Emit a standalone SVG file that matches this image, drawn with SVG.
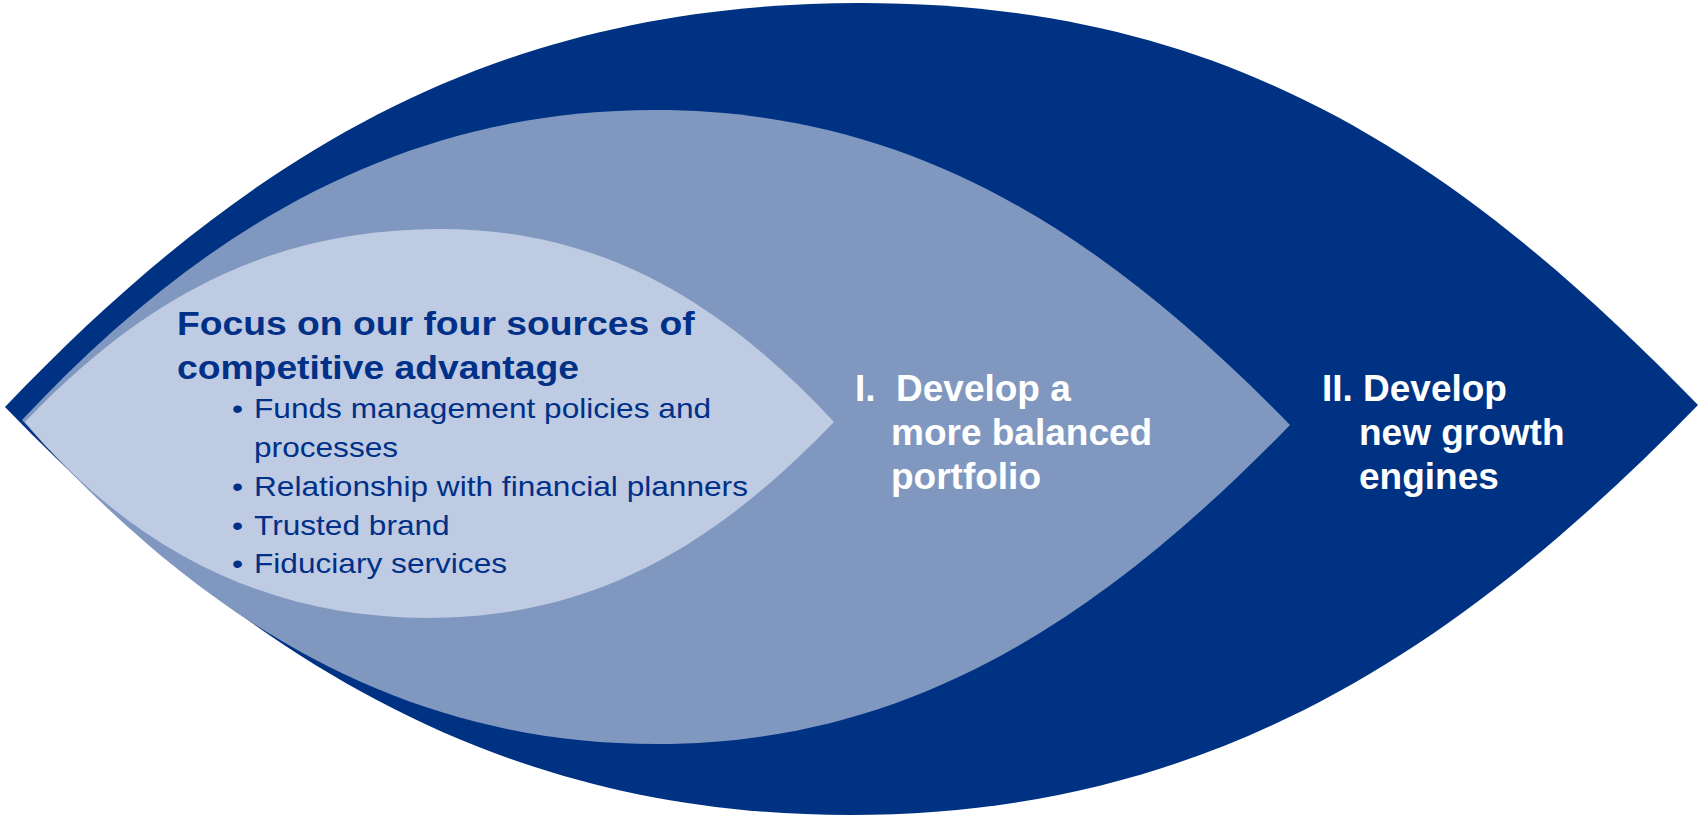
<svg xmlns="http://www.w3.org/2000/svg" width="1701" height="816" viewBox="0 0 1701 816">
  <style>
    .outer { fill: #003283; }
    .middle { fill: #8098c0; }
    .inner { fill: #bfcbe2; }
    .head { font-family: "Liberation Sans", Arial, sans-serif; font-weight: bold; font-size: 33px; fill: #003087; }
    .item { font-family: "Liberation Sans", Arial, sans-serif; font-size: 28px; fill: #003087; }
    .label { font-family: "Liberation Sans", Arial, sans-serif; font-weight: bold; font-size: 37px; fill: #ffffff; }
  </style>

  <!-- Outer lens: new growth engines -->
  <g id="growth-engines">
    <path class="outer" d="M 5 407 C 250 150, 500 3, 860 3 C 1220 3, 1450 150, 1698 405 C 1450 660, 1200 815, 850 815 C 500 815, 250 660, 5 407 Z"/>
    <text class="label" y="401"><tspan x="1322">II.</tspan><tspan x="1363">Develop</tspan></text>
    <text class="label" x="1359" y="445">new growth</text>
    <text class="label" x="1359" y="489">engines</text>
  </g>

  <!-- Middle lens: balanced portfolio -->
  <g id="balanced-portfolio">
    <path class="middle" d="M 22 420 C 200 230, 400 110, 655 110 C 910 110, 1100 230, 1290 425 C 1100 620, 910 744, 657 744 C 400 744, 200 620, 22 420 Z"/>
    <text class="label" y="401"><tspan x="855">I.</tspan><tspan x="896">Develop a</tspan></text>
    <text class="label" x="891" y="445">more balanced</text>
    <text class="label" x="891" y="489">portfolio</text>
  </g>

  <!-- Inner lens: competitive advantage (text set slightly wide) -->
  <g id="competitive-advantage">
    <path class="inner" d="M 25 422 C 150 290, 280 229, 440 229 C 600 229, 720 300, 834 422 C 720 540, 600 618, 427 618 C 280 618, 140 560, 25 422 Z"/>
    <g transform="scale(1.13,1)">
      <text class="head" x="156.6" y="335">Focus on our four sources of</text>
      <text class="head" x="156.6" y="379">competitive advantage</text>
      <text class="item" x="205.3" y="418">•</text>
      <text class="item" x="224.8" y="418">Funds management policies and</text>
      <text class="item" x="224.8" y="457">processes</text>
      <text class="item" x="205.3" y="496">•</text>
      <text class="item" x="224.8" y="496">Relationship with financial planners</text>
      <text class="item" x="205.3" y="535">•</text>
      <text class="item" x="224.8" y="535">Trusted brand</text>
      <text class="item" x="205.3" y="573">•</text>
      <text class="item" x="224.8" y="573">Fiduciary services</text>
    </g>
  </g>

  <g id="connectors"/>
</svg>
